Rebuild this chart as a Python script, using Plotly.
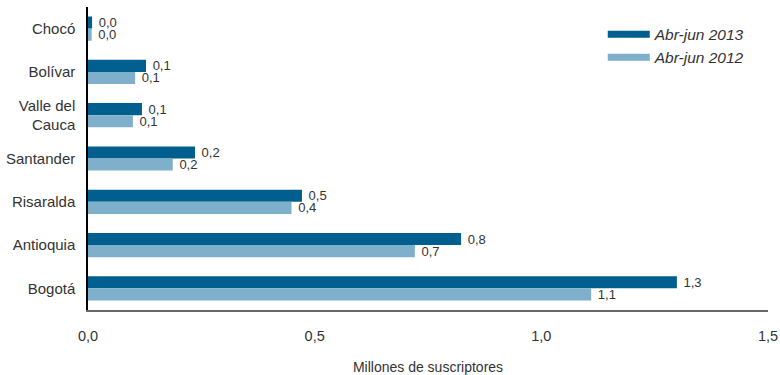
import plotly.graph_objects as go

# Suscriptores por departamento (millones)
departamentos = ["Chocó", "Bolívar", "Valle del<br>Cauca", "Santander", "Risaralda", "Antioquia", "Bogotá"]
abr_jun_2013 = [0.009, 0.128, 0.119, 0.236, 0.472, 0.823, 1.299]
abr_jun_2012 = [0.008, 0.104, 0.099, 0.187, 0.449, 0.721, 1.110]
serie_2013 = "Abr-jun 2013"
serie_2012 = "Abr-jun 2012"
ticks_x = [0, 0.5, 1.0, 1.5]

AZUL_OSCURO = "#005F8E"
AZUL_CLARO = "#7FB0CB"
TEXTO = "#333333"
FUENTE = "Liberation Sans, Arial, sans-serif"

fig = go.Figure()
for nombre, valores, color in [(serie_2013, abr_jun_2013, AZUL_OSCURO),
                               (serie_2012, abr_jun_2012, AZUL_CLARO)]:
    fig.add_trace(go.Bar(
        y=departamentos, x=valores, orientation="h", name=nombre,
        marker=dict(color=color, line=dict(width=0)),
        texttemplate=" %{x:.1f}", textposition="outside",
        textfont=dict(size=13, color=TEXTO, family=FUENTE),
        constraintext="none", cliponaxis=False, showlegend=False,
    ))
    # legend entry drawn as a wide swatch
    fig.add_trace(go.Scatter(
        x=[None], y=[None], mode="lines", name=nombre,
        line=dict(color=color, width=7),
    ))

fig.update_layout(
    width=780, height=375,
    margin=dict(l=88, r=12, t=7, b=65),
    paper_bgcolor="white", plot_bgcolor="white",
    separators=",.",
    barmode="group", bargap=0.44, bargroupgap=0,
    font=dict(family=FUENTE, color=TEXTO, size=14),
    showlegend=True,
    legend=dict(
        x=0.757, y=0.965, xanchor="left", yanchor="top",
        font=dict(size=15.5, color=TEXTO, family=FUENTE, style="italic"),
        itemwidth=42, tracegroupgap=0, bgcolor="rgba(0,0,0,0)",
    ),
    xaxis=dict(
        range=[0, 1.5], tickvals=ticks_x, tickformat=".1f",
        showgrid=False, zeroline=False, automargin=False,
        showline=True, linecolor="#666666", linewidth=2,
        ticks="", ticklabelstandoff=12,
        tickfont=dict(size=14.5, color=TEXTO),
        title=dict(text="Millones de suscriptores", font=dict(size=14, color=TEXTO), standoff=22),
    ),
    yaxis=dict(
        categoryorder="array", categoryarray=departamentos, autorange="reversed",
        showgrid=False, zeroline=False, automargin=False,
        showline=True, linecolor="#000000", linewidth=1.5,
        ticks="", ticklabelstandoff=8,
        tickfont=dict(size=15, color=TEXTO),
    ),
)

fig.write_html("out.html")
